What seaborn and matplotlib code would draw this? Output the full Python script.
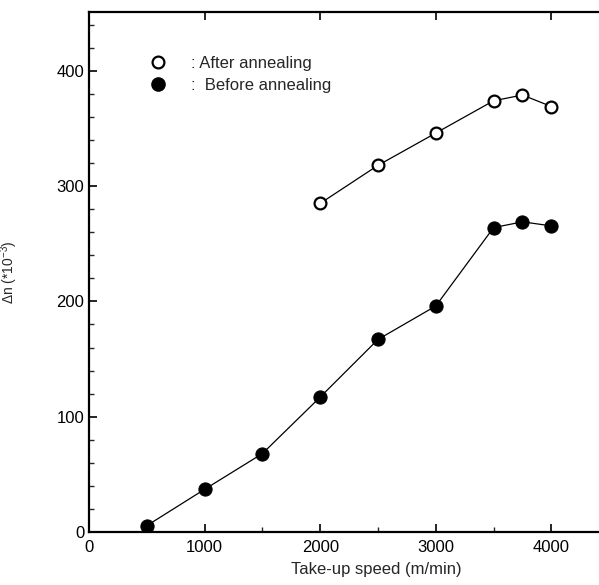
import matplotlib
matplotlib.use("Agg")
import matplotlib.pyplot as plt
import seaborn as sns
import pandas as pd
from matplotlib.lines import Line2D
from matplotlib.ticker import MultipleLocator

# --- data ---
speed_after = [2000, 2500, 3000, 3500, 3750, 4000]
dn_after = [285, 318, 346, 374, 379, 369]

speed_before = [500, 1000, 1500, 2000, 2500, 3000, 3500, 3750, 4000]
dn_before = [5.5, 37, 68, 117, 167, 196, 264, 269, 265.5]

x_ticks = [0, 1000, 2000, 3000, 4000]
y_ticks = [0, 100, 200, 300, 400]

sns.set_style("ticks")
plt.rcParams['font.family'] = ['Liberation Sans', 'DejaVu Sans']
plt.rcParams['mathtext.fontset'] = 'custom'
plt.rcParams['mathtext.rm'] = 'Liberation Sans'
plt.rcParams['mathtext.it'] = 'Liberation Sans:italic'

fig = plt.figure(figsize=(5.99, 5.85), dpi=100)
ax = fig.add_axes([0.1486, 0.0906, 0.8514, 0.8889])

after_df = pd.DataFrame({'speed': speed_after, 'dn': dn_after})
before_df = pd.DataFrame({'speed': speed_before, 'dn': dn_before})

sns.lineplot(data=after_df, x='speed', y='dn', ax=ax, color='black', lw=0.9,
             marker='o', markersize=8.5, markerfacecolor='white',
             markeredgecolor='black', markeredgewidth=1.6, zorder=3)
sns.lineplot(data=before_df, x='speed', y='dn', ax=ax, color='black', lw=0.9,
             marker='o', markersize=9.5, markerfacecolor='black',
             markeredgecolor='black', zorder=3)

ax.set_xlim(0, 4412)
ax.set_ylim(0, 451)
ax.set_xticks(x_ticks)
ax.set_yticks(y_ticks)
ax.xaxis.set_minor_locator(MultipleLocator(500))
ax.yaxis.set_minor_locator(MultipleLocator(20))

ax.tick_params(axis='both', which='major', direction='in', length=6, width=1.2,
               labelsize=12, colors='black')
ax.tick_params(axis='both', which='minor', direction='in', length=3.5, width=1.0)
ax.tick_params(axis='x', which='major', top=True, pad=6)
ax.tick_params(axis='x', which='minor', top=False)
ax.tick_params(axis='y', which='both', right=False)

for side in ['left', 'bottom', 'top']:
    ax.spines[side].set_linewidth(1.6)
    ax.spines[side].set_color('black')
ax.spines['right'].set_visible(False)

ax.set_xlabel('Take-up speed (m/min)', fontsize=12)
ax.xaxis.set_label_coords(0.563, -0.058)
ax.set_ylabel(r'$\Delta$n (*10$^{-3}$)', fontsize=10)
ax.yaxis.set_label_coords(-0.135, 0.5)

handles = [
    Line2D([], [], ls='none', marker='o', markersize=8.5, markerfacecolor='white',
           markeredgecolor='black', markeredgewidth=1.6),
    Line2D([], [], ls='none', marker='o', markersize=9.5, markerfacecolor='black',
           markeredgecolor='black'),
]
ax.legend(handles, [': After annealing', ':  Before annealing'], loc='upper left',
          bbox_to_anchor=(0.086, 0.945), frameon=False, fontsize=12,
          handlelength=1.2, handletextpad=1.4, labelspacing=0.45)

fig.savefig('out.png', dpi=100)
